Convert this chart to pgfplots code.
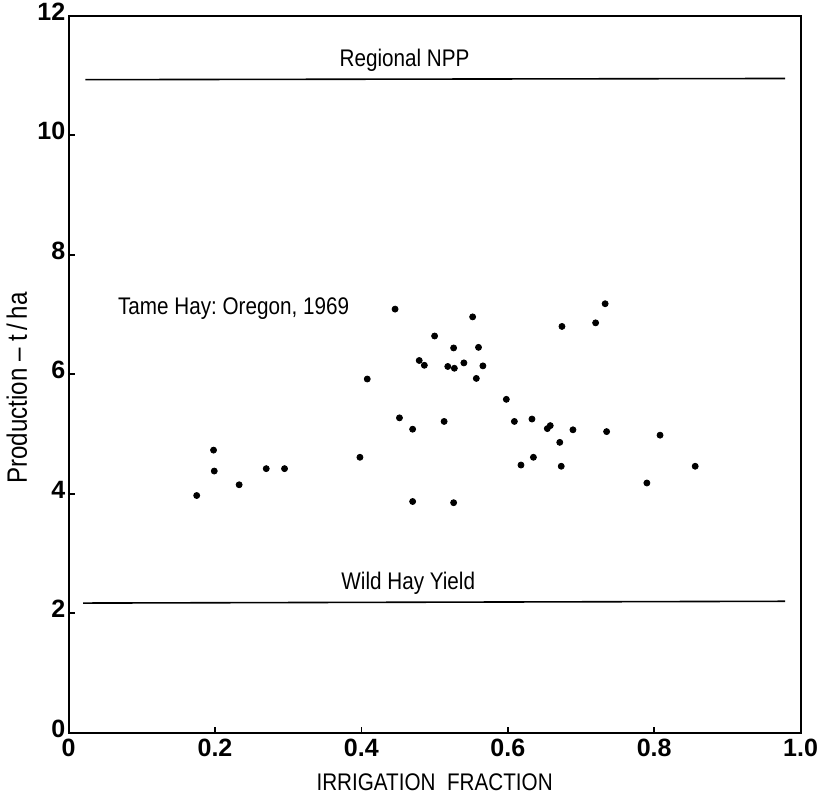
\documentclass[border=0pt]{standalone}
\usepackage{fontspec}
\setmainfont{Liberation Sans}[FakeStretch=0.86]
\newfontfamily\tickfont{Liberation Sans}
\usepackage{pgfplots}
\pgfplotsset{compat=1.18}
\pgfplotstableread{
x y
0.175 3.97
0.198 4.73
0.199 4.38
0.233 4.15
0.270 4.42
0.295 4.42
0.398 4.61
0.408 5.92
0.446 7.09
0.452 5.27
0.470 5.08
0.470 3.87
0.552 6.96
0.500 6.64
0.526 6.44
0.560 6.45
0.479 6.23
0.486 6.15
0.518 6.13
0.527 6.10
0.540 6.19
0.566 6.14
0.557 5.93
0.598 5.58
0.513 5.21
0.609 5.21
0.633 5.25
0.654 5.09
0.658 5.14
0.689 5.07
0.671 4.86
0.635 4.61
0.618 4.48
0.673 4.46
0.526 3.85
0.674 6.80
0.720 6.86
0.733 7.18
0.735 5.04
0.808 4.98
0.790 4.18
0.856 4.46
}\tamehay
\begin{document}
\frenchspacing
\begin{tikzpicture}
\begin{axis}[
  width=365.5pt, height=358pt, scale only axis,
  xmin=0, xmax=1, ymin=0, ymax=12,
  xtick={0,0.2,0.4,0.6,0.8,1.0},
  xticklabels={0,0.2,0.4,0.6,0.8,1.0},
  ytick={0,2,4,6,8,10,12},
  tick align=inside, major tick length=3pt,
  xtick pos=bottom, ytick pos=left,
  axis line style={line width=1pt},
  tick style={line width=0.8pt, black},
  /pgf/number format/assume math mode=true,
  ticklabel style={font=\tickfont\bfseries\fontsize{12.5}{14}\selectfont, inner sep=1.5pt},
  xticklabel style={yshift=-1.5pt},
  yticklabel style={yshift=2pt},
  xlabel={IRRIGATION\ \ FRACTION},
  ylabel={Production -- t\,/\,ha},
  xlabel style={font=\fontsize{12}{14}\selectfont, yshift=-3.5pt},
  ylabel style={font=\fontsize{14}{16}\selectfont, at={(ticklabel cs:0.478)}, xshift=1pt},
  clip=false,
]
\addplot[line width=0.8pt] coordinates {(0.023,10.93) (0.979,10.95)};
\addplot[line width=0.8pt] coordinates {(0.020,2.17) (0.979,2.20)};
\addplot[only marks, mark=*, mark size=1.5pt, black] table[x=x, y=y] {\tamehay};
\node[font=\fontsize{12}{14}\selectfont] at (axis cs:0.459,11.25) {Regional NPP};
\node[font=\fontsize{12}{14}\selectfont] at (axis cs:0.464,2.5) {Wild Hay Yield};
\node[font=\fontsize{12}{14}\selectfont, anchor=west] at (axis cs:0.058,7.1) {Tame Hay: Oregon, 1969};
\end{axis}
\end{tikzpicture}
\end{document}
